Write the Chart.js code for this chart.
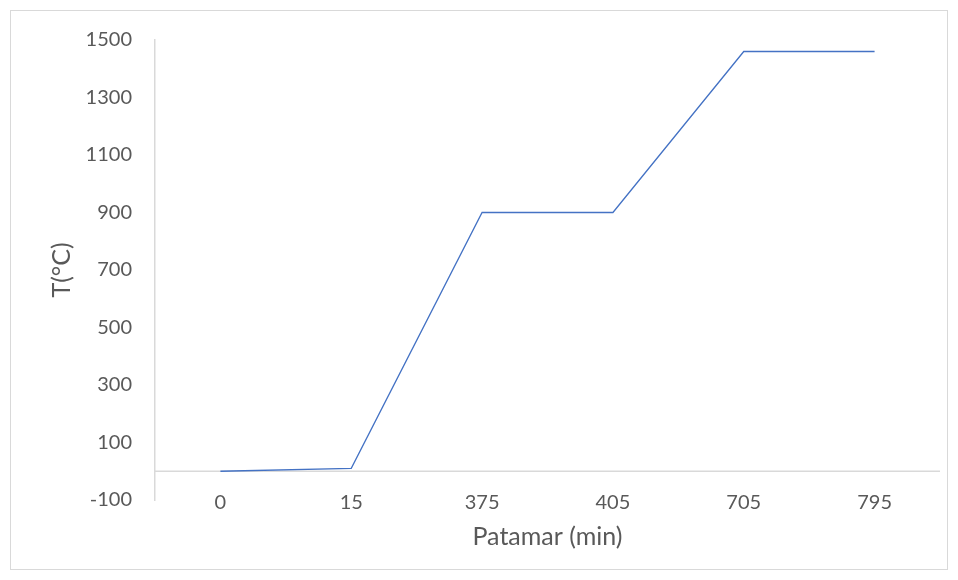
<!DOCTYPE html>
<html>
<head>
<meta charset="utf-8">
<script src="https://cdn.jsdelivr.net/npm/chart.js@4.4.1/dist/chart.umd.min.js"></script>
<style>
    html, body { margin: 0; padding: 0; background: #ffffff; }
    #wrap {
        position: absolute; left: 10px; top: 10px;
        width: 936px; height: 558px;
        border: 1px solid #d9d9d9;
    }
</style>
</head>
<body>
<div id="wrap"><canvas id="tempChart" width="936" height="558"></canvas></div>
<script>
    // x categories (minutes) and temperatures
    const minutes = ['0', '15', '375', '405', '705', '795'];
    const temperature = [0, 10, 900, 900, 1460, 1460];
    const yTicks = [-100, 100, 300, 500, 700, 900, 1100, 1300, 1500];

    const textColor = '#595959';
    const axisColor = '#d9d9d9';
    const fontFamily = 'Lato, "Open Sans", sans-serif';

    // horizontal axis line crossing at y = 0, like the spreadsheet chart
    const zeroLine = {
        id: 'zeroLine',
        beforeDatasetsDraw(chart) {
            const { ctx, chartArea, scales } = chart;
            const y = scales.y.getPixelForValue(0);
            ctx.save();
            ctx.strokeStyle = axisColor;
            ctx.lineWidth = 1.5;
            ctx.beginPath();
            ctx.moveTo(chartArea.left, y);
            ctx.lineTo(chartArea.right, y);
            ctx.stroke();
            ctx.restore();
        }
    };

    const ctx = document.getElementById('tempChart');
    new Chart(ctx, {
        type: 'line',
        data: {
            labels: minutes,
            datasets: [{
                data: temperature,
                borderColor: '#4472c4',
                borderWidth: 1.3,
                pointRadius: 0,
                tension: 0,
                fill: false
            }]
        },
        options: {
            responsive: false,
            animation: false,
            layout: { padding: { top: 29, right: 7, left: 0, bottom: 0 } },
            plugins: { legend: { display: false }, tooltip: { enabled: false } },
            scales: {
                x: {
                    offset: true,
                    grid: { display: false, drawTicks: false },
                    border: { display: false },
                    ticks: { color: textColor, font: { family: fontFamily, size: 20 }, padding: -9, maxRotation: 0 },
                    title: {
                        display: true, text: 'Patamar (min)', color: textColor,
                        font: { family: fontFamily, size: 25 }, padding: { top: 0, bottom: 17 }
                    },
                    afterFit: (scale) => {
                        scale.height = 69;
                        // labels sit level with the -100 tick, so don't clip them to the axis box
                        scale._computeLabelArea = () => null;
                    }
                },
                y: {
                    min: -100,
                    max: 1500,
                    afterBuildTicks: (scale) => { scale.ticks = yTicks.map(v => ({ value: v })); },
                    grid: { display: false, drawTicks: false },
                    border: { display: true, color: axisColor, width: 1.5 },
                    ticks: {
                        color: textColor, font: { family: fontFamily, size: 20 }, padding: 23,
                        callback: (v) => String(v)
                    },
                    title: {
                        display: true, text: 'T(°C)', color: textColor,
                        font: { family: fontFamily, size: 25 }, padding: { top: 36 }
                    },
                    afterFit: (scale) => {
                        scale.width = 144;
                        scale.paddingTop = 0;
                        scale.paddingBottom = 0;
                    }
                }
            }
        },
        plugins: [zeroLine]
    });
</script>
</body>
</html>
